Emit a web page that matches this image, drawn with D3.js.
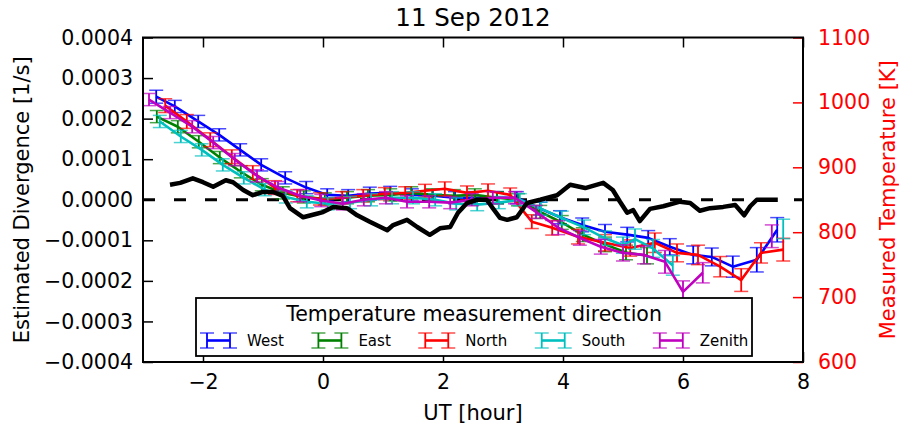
<!DOCTYPE html>
<html>
<head>
<meta charset="utf-8">
<script src="https://cdn.jsdelivr.net/npm/d3@7"></script>
<style>
  body { margin: 0; background: #fff; }
  text { font-family: "DejaVu Sans", sans-serif; }
</style>
</head>
<body>
<svg id="chart" width="899" height="426"></svg>
<script>
// ---- data ----------------------------------------------------------
const chartTitle = "11 Sep 2012";
const DIV_UNIT = 1e-4;              // divergence arrays are stored in units of 1e-4 s^-1

const seriesNames  = ["West", "East", "North", "South", "Zenith"];
const seriesColors = ["#0000ff", "#008000", "#ff0000", "#00bfbf", "#bf00bf"];

// West
const westUT  = [-2.78,-2.47,-2.08,-1.73,-1.38,-1.03,-0.63,-0.28,0.07,0.42,0.78,1.12,1.48,1.83,2.2,2.53,2.9,3.23,3.62,3.95,4.32,4.7,5.07,5.42,5.78,6.17,6.48,6.83,7.23,7.57];
const westDiv = [2.54,2.30,1.93,1.60,1.23,0.86,0.54,0.30,0.12,0.10,0.15,0.17,0.12,0.10,0.05,0.05,0.05,0.05,-0.22,-0.43,-0.62,-0.79,-0.86,-0.94,-1.16,-1.36,-1.41,-1.65,-1.48,-0.74];
const westErr = [0.16,0.15,0.15,0.15,0.15,0.15,0.15,0.15,0.15,0.15,0.16,0.16,0.15,0.15,0.15,0.15,0.15,0.15,0.16,0.16,0.17,0.18,0.18,0.18,0.20,0.22,0.22,0.26,0.30,0.30];

// East
const eastUT  = [-2.77,-2.42,-2.07,-1.72,-1.37,-1.02,-0.67,-0.32,0.03,0.4,0.75,1.12,1.47,1.82,2.18,2.53,2.9,3.25,3.62,3.98,4.33,4.7,5.05,5.4];
const eastDiv = [2.05,1.80,1.43,1.04,0.69,0.37,0.17,0.07,0.02,0.05,0.10,0.12,0.17,0.12,0.10,0.12,0.05,0.00,-0.30,-0.56,-0.86,-1.10,-1.30,-1.38];
const eastErr = [0.15,0.15,0.15,0.15,0.15,0.15,0.15,0.15,0.15,0.15,0.15,0.15,0.15,0.15,0.15,0.15,0.15,0.15,0.16,0.17,0.17,0.18,0.18,0.20];

// North
const northUT  = [-2.63,-2.27,-1.88,-1.52,-1.17,-0.8,-0.43,-0.05,0.32,0.67,1.03,1.37,1.7,2.03,2.4,2.75,3.12,3.48,3.82,4.25,4.7,5.12,5.53,5.9,6.25,6.62,6.97,7.3,7.67];
const northDiv = [2.32,1.93,1.48,1.06,0.67,0.30,0.10,0.02,0.05,0.10,0.15,0.17,0.22,0.27,0.17,0.22,0.12,-0.54,-0.69,-0.91,-1.06,-1.19,-1.06,-1.31,-1.36,-1.65,-1.98,-1.31,-1.23];
const northErr = [0.17,0.17,0.17,0.17,0.17,0.17,0.15,0.15,0.15,0.15,0.15,0.15,0.16,0.17,0.17,0.17,0.17,0.17,0.18,0.18,0.20,0.20,0.24,0.22,0.24,0.25,0.28,0.25,0.28];

// South
const southUT  = [-2.72,-2.37,-2.02,-1.67,-1.32,-0.97,-0.62,-0.27,0.08,0.45,0.8,1.15,1.5,1.87,2.22,2.57,2.93,3.28,3.63,3.98,4.35,4.7,5.0,5.2,5.5,5.83,6.5,7.67];
const southDiv = [1.93,1.56,1.23,0.86,0.54,0.25,0.07,-0.05,-0.10,-0.07,0.00,0.05,0.05,0.00,-0.10,-0.12,-0.07,0.00,-0.22,-0.45,-0.68,-0.95,-1.12,-0.97,-1.20,-1.62,null,-0.72];
const southErr = [0.15,0.15,0.15,0.15,0.15,0.15,0.15,0.15,0.15,0.15,0.15,0.15,0.15,0.15,0.15,0.15,0.15,0.15,0.16,0.17,0.18,0.18,0.20,0.25,0.22,0.24,0,0.24];

// Zenith
const zenithUT  = [-2.9,-2.55,-2.18,-1.83,-1.47,-1.1,-0.75,-0.38,-0.03,0.33,0.68,1.05,1.4,1.77,2.12,2.48,2.83,3.2,3.55,3.92,4.28,4.63,5.0,5.35,5.7,6.0,6.33,6.9,7.48];
const zenithDiv = [2.47,2.15,1.80,1.41,0.99,0.59,0.30,0.10,-0.02,-0.10,0.00,0.05,-0.05,-0.05,-0.07,0.00,0.05,0.05,-0.30,-0.69,-0.94,-1.16,-1.31,-1.36,-1.53,-2.27,-1.80,null,-0.90];
const zenithErr = [0.15,0.15,0.15,0.15,0.15,0.15,0.15,0.15,0.15,0.15,0.15,0.15,0.15,0.15,0.15,0.15,0.15,0.15,0.16,0.17,0.18,0.18,0.20,0.22,0.28,0.27,0.25,0,0.28];

// Measured temperature (right axis)
const tempUT = [-2.55,-2.38,-2.17,-2.0,-1.83,-1.62,-1.5,-1.33,-1.17,-1.0,-0.83,-0.67,-0.55,-0.33,-0.12,0.0,0.17,0.4,0.57,0.78,1.07,1.17,1.4,1.57,1.78,1.95,2.12,2.25,2.4,2.57,2.73,2.83,2.95,3.07,3.23,3.4,3.62,3.9,4.12,4.37,4.67,4.83,4.95,5.07,5.17,5.28,5.45,5.67,5.95,6.12,6.28,6.45,6.67,6.87,7.02,7.12,7.23,7.58];
const tempK  = [873,876,883,877,870,880,877,865,857,862,862,856,837,823,828,831,839,837,826,816,803,811,819,808,796,806,808,830,845,850,850,837,822,819,823,845,850,857,873,868,876,865,847,830,834,817,836,840,847,845,833,837,839,842,826,840,850,850];

const xTicks = [-2, 0, 2, 4, 6, 8];
const yTicks = [-4, -3, -2, -1, 0, 1, 2, 3, 4];      // x DIV_UNIT
const tTicks = [600, 700, 800, 900, 1000, 1100];

const xLabel = "UT [hour]";
const yLabel = "Estimated Divergence [1/s]";
const tLabel = "Measured Temperature [K]";
const legendTitle = "Temperature measurement direction";

// ---- layout --------------------------------------------------------
const plot = { left: 143, right: 803, top: 37.5, bottom: 362 };
const svg = d3.select("#chart");

const x = d3.scaleLinear().domain([-3, 8]).range([plot.left, plot.right]);
const y = d3.scaleLinear().domain([-4 * DIV_UNIT, 4 * DIV_UNIT]).range([plot.bottom, plot.top]);
const yT = d3.scaleLinear().domain([600, 1100]).range([plot.bottom, plot.top]);

const series = [
  { ut: westUT,   v: westDiv,   e: westErr },
  { ut: eastUT,   v: eastDiv,   e: eastErr },
  { ut: northUT,  v: northDiv,  e: northErr },
  { ut: southUT,  v: southDiv,  e: southErr },
  { ut: zenithUT, v: zenithDiv, e: zenithErr }
].map((s, i) => ({
  name: seriesNames[i],
  color: seriesColors[i],
  points: s.ut.map((t, j) => ({ t, v: s.v[j] == null ? null : s.v[j] * DIV_UNIT, e: s.e[j] * DIV_UNIT }))
}));

const CAP = 7;

// zero reference line
svg.append("line")
  .attr("x1", x(-3)).attr("x2", x(8))
  .attr("y1", y(0)).attr("y2", y(0))
  .attr("stroke", "#000").attr("stroke-width", 3)
  .attr("stroke-dasharray", "12,19");

// divergence series with error bars
const divLine = d3.line()
  .defined(d => d.v != null)
  .x(d => x(d.t)).y(d => y(d.v));

series.forEach(s => {
  const g = svg.append("g");
  const pts = s.points.filter(d => d.v != null);
  g.append("path")
    .attr("d", divLine(s.points))
    .attr("fill", "none").attr("stroke", s.color)
    .attr("stroke-width", 2.6).attr("stroke-linejoin", "round");
  g.selectAll("line.bar").data(pts).join("line").attr("class", "bar")
    .attr("x1", d => x(d.t)).attr("x2", d => x(d.t))
    .attr("y1", d => y(d.v - d.e)).attr("y2", d => y(d.v + d.e))
    .attr("stroke", s.color).attr("stroke-width", 1.8);
  ["-", "+"].forEach(sign => {
    g.selectAll("line.cap" + (sign === "+" ? "t" : "b")).data(pts).join("line")
      .attr("class", "cap" + (sign === "+" ? "t" : "b"))
      .attr("x1", d => x(d.t) - CAP).attr("x2", d => x(d.t) + CAP)
      .attr("y1", d => y(sign === "+" ? d.v + d.e : d.v - d.e))
      .attr("y2", d => y(sign === "+" ? d.v + d.e : d.v - d.e))
      .attr("stroke", s.color).attr("stroke-width", 1.5).attr("stroke-opacity", 0.7);
  });
});

// temperature line
const tLine = d3.line().x((d, i) => x(tempUT[i])).y(d => yT(d)).curve(d3.curveLinear);
svg.append("path")
  .attr("d", tLine(tempK))
  .attr("fill", "none").attr("stroke", "#000")
  .attr("stroke-width", 4.5).attr("stroke-linejoin", "round");

// ---- axes ----------------------------------------------------------
function styleAxis(g, color) {
  g.select(".domain").remove();
  g.selectAll(".tick line").attr("stroke", color).attr("stroke-width", 1.5);
  g.selectAll(".tick text").attr("fill", color).style("font-size", "20.5px")
    .style("font-family", "DejaVu Sans, sans-serif");
}

svg.append("g").attr("transform", `translate(0,${plot.bottom})`)
  .call(d3.axisBottom(x).tickValues(xTicks).tickFormat(d3.format("d")).tickSizeInner(-10).tickSizeOuter(0).tickPadding(12))
  .call(g => styleAxis(g, "#000"));

svg.append("g").attr("transform", `translate(0,${plot.top})`)
  .call(d3.axisTop(x).tickValues(xTicks).tickFormat("").tickSizeInner(-10).tickSizeOuter(0))
  .call(g => styleAxis(g, "#000"));

svg.append("g").attr("transform", `translate(${plot.left},0)`)
  .call(d3.axisLeft(y).tickValues(yTicks.map(v => v * DIV_UNIT)).tickFormat(d3.format(".4f")).tickSizeInner(-10).tickSizeOuter(0).tickPadding(10))
  .call(g => styleAxis(g, "#000"));

svg.append("g").attr("transform", `translate(${plot.right},0)`)
  .call(d3.axisRight(yT).tickValues(tTicks).tickFormat(d3.format("d")).tickSizeInner(-10).tickSizeOuter(0).tickPadding(15))
  .call(g => styleAxis(g, "#ff0000"));

// frame
svg.append("rect")
  .attr("x", plot.left).attr("y", plot.top)
  .attr("width", plot.right - plot.left).attr("height", plot.bottom - plot.top)
  .attr("fill", "none").attr("stroke", "#000").attr("stroke-width", 2);

// titles
svg.append("text").attr("x", (plot.left + plot.right) / 2).attr("y", 26)
  .attr("text-anchor", "middle").style("font-size", "24.5px").text(chartTitle);

svg.append("text").attr("x", (plot.left + plot.right) / 2).attr("y", 420)
  .attr("text-anchor", "middle").style("font-size", "21px").text(xLabel);

svg.append("text")
  .attr("transform", `translate(29,${(plot.top + plot.bottom) / 2}) rotate(-90)`)
  .attr("text-anchor", "middle").style("font-size", "21px").text(yLabel);

svg.append("text")
  .attr("transform", `translate(895,${(plot.top + plot.bottom) / 2}) rotate(-90)`)
  .attr("text-anchor", "middle").attr("fill", "#ff0000").style("font-size", "21px").text(tLabel);

// ---- legend --------------------------------------------------------
const leg = svg.append("g");
const legBox = { x: 196, y: 298, w: 556, h: 58 };
leg.append("rect")
  .attr("x", legBox.x).attr("y", legBox.y).attr("width", legBox.w).attr("height", legBox.h)
  .attr("fill", "#fff").attr("stroke", "#000").attr("stroke-width", 1.8);
leg.append("text")
  .attr("x", legBox.x + legBox.w / 2).attr("y", 321)
  .attr("text-anchor", "middle").style("font-size", "20.5px").text(legendTitle);

let lx = 200;
const ly = 340.5;
series.forEach(s => {
  const g = leg.append("g");
  const a = lx + CAP, b = lx + 37 - CAP;
  g.append("line").attr("x1", a).attr("x2", b).attr("y1", ly).attr("y2", ly)
    .attr("stroke", s.color).attr("stroke-width", 2.6);
  [a, b].forEach(px => {
    g.append("line").attr("x1", px).attr("x2", px).attr("y1", ly - 7.5).attr("y2", ly + 7.5)
      .attr("stroke", s.color).attr("stroke-width", 1.8);
    [ly - 7.5, ly + 7.5].forEach(py => {
      g.append("line").attr("x1", px - CAP).attr("x2", px + CAP).attr("y1", py).attr("y2", py)
        .attr("stroke", s.color).attr("stroke-width", 1.5).attr("stroke-opacity", 0.7);
    });
  });
  const t = g.append("text").attr("x", lx + 47).attr("y", 346)
    .style("font-size", "15px").text(s.name);
  lx += 47 + t.node().getComputedTextLength() + 27.5;
});
</script>
</body>
</html>
